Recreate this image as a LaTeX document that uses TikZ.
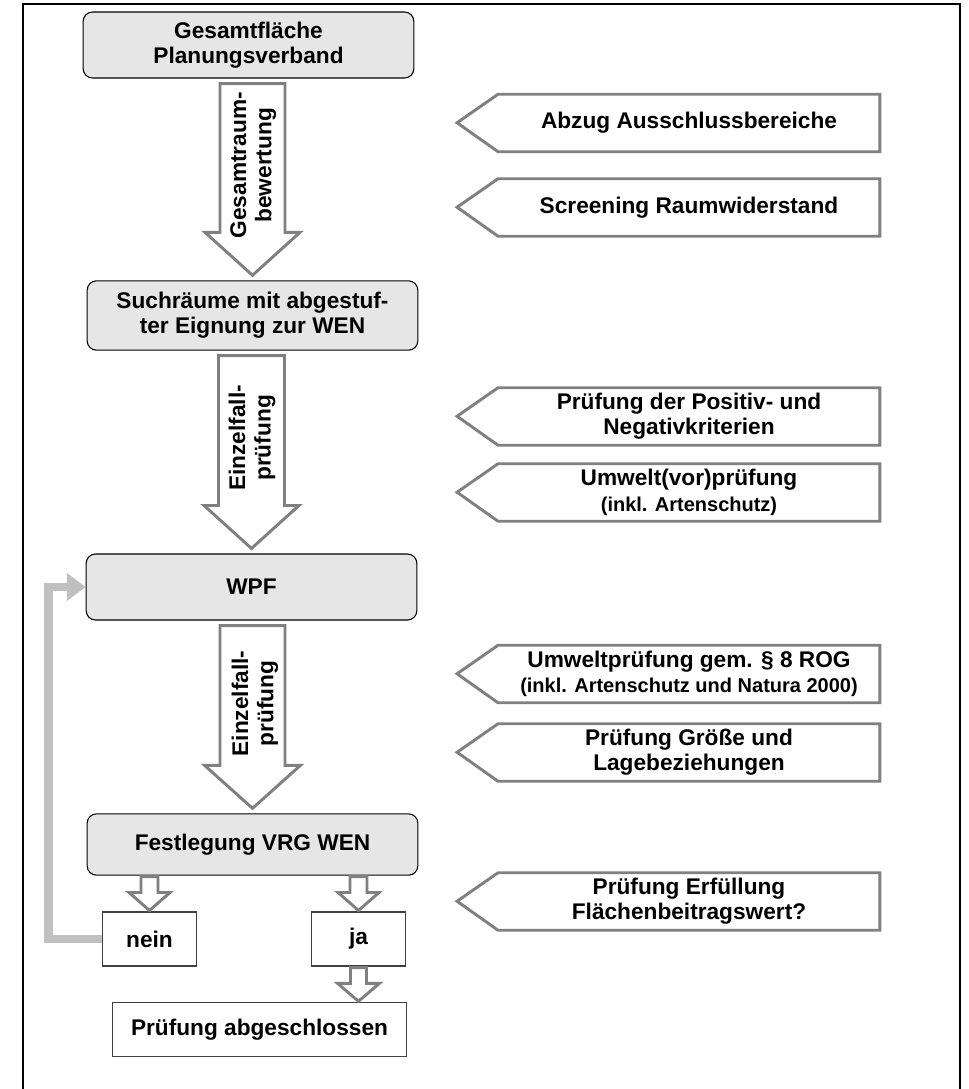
\documentclass[tikz,border=0pt]{standalone}
\usepackage{fontspec}
\setmainfont{Liberation Sans}
\usetikzlibrary{calc,arrows.meta}
\definecolor{boxgray}{HTML}{E6E6E6}
\definecolor{arrowgray}{HTML}{808080}
\definecolor{backgray}{HTML}{C0C0C0}
\newcommand{\klein}{\fontsize{15}{17}\selectfont}
\newcommand{\blockdown}[6]{%
  \draw[hollow] ($(#1 -| #2)+(-#3,#6)$) -- ($(#2)+(-#3,-#6-#5)$) -- ($(#2)+(-#4,-#6-#5)$)
    -- ($(#2)+(0,-#6)$) -- ($(#2)+(#4,-#6-#5)$) -- ($(#2)+(#3,-#6-#5)$) -- ($(#1 -| #2)+(#3,#6)$) -- cycle;}
\begin{document}
\begin{tikzpicture}[x=0.75pt,y=-0.75pt,
            txt/.style={font=\bfseries\fontsize{17}{19}\selectfont,align=center},
            box/.style={txt,draw=black,line width=0.8pt,fill=boxgray,rounded corners=7pt,minimum width=248pt},
            small/.style={txt,draw=black!75,line width=0.8pt,fill=white},
            hollow/.style={draw=arrowgray,line width=2.2pt,fill=white},
            side/.style={txt,minimum width=286pt,minimum height=42.75pt,inner sep=0pt},
            sidearrow/.style={draw=arrowgray,line width=2.2pt},
            back/.style={draw=backgray,line width=6.5pt,-{Triangle[length=14pt,width=20pt]}}]
            \useasboundingbox (0,0) rectangle (968,1089);
            \draw[line width=1.6pt] (23,1089) -- (23,4) -- (960,4) -- (960,1089);
            \node[box,minimum height=49.5pt] (gesamt) at (248.5,45) {Gesamtfläche\\Planungsverband};
            \node[box,minimum height=52pt] (such) at (252.5,315.5) {Suchräume mit abgestuf-\\ter Eignung zur WEN};
            \node[box,minimum height=49.5pt] (wpf) at (251.5,587) {WPF};
            \node[box,minimum height=46pt] (vrg) at (252.5,844.5) {Festlegung VRG WEN};
            \node[small,minimum width=71pt,minimum height=40.5pt] (nein) at (149.5,939) {nein};
            \node[small,minimum width=71pt,minimum height=40.5pt] (ja) at (358.5,939) {ja};
            \node[small,minimum width=221pt,minimum height=40pt] (ende) at (259.5,1029.5) {Prüfung abgeschlossen};
            \blockdown{gesamt.south}{such.north}{32.5}{47.5}{43}{5}
            \blockdown{such.south}{wpf.north}{33}{47.5}{43}{5}
            \blockdown{wpf.south}{vrg.north}{32.5}{48}{43}{5}
            \node[txt,rotate=90] (bewertung) at ($(gesamt.south)!0.43!(such.north)+(3,0)$) {Gesamtraum-\\bewertung};
            \node[txt,rotate=90] (einzel1) at ($(such.south)!0.43!(wpf.north)+(0,0)$) {Einzelfall-\\prüfung};
            \node[txt,rotate=90] (einzel2) at ($(wpf.south)!0.43!(vrg.north)+(3,0)$) {Einzelfall-\\prüfung};
            \blockdown{vrg.south}{nein.north}{8.5}{20.5}{18}{1}
            \blockdown{vrg.south}{ja.north}{8.5}{20.5}{18}{1}
            \coordinate (jaend) at (ende.north -| ja.south);
            \blockdown{ja.south}{jaend}{8}{21}{18}{1}
            \draw[back] (nein.west) -- ++(-53,0) |- (wpf.west);
            \foreach \y/\txt [count=\i] in {123/{Abzug Ausschlussbereiche},
                207.5/{Screening Raumwiderstand},
                416.5/{Prüfung der Positiv- und\\Negativkriterien},
                492.5/{Umwelt(vor)prüfung\\{\klein(inkl. Artenschutz)}},
                674/{Umweltprüfung gem. § 8 ROG\\{\klein(inkl. Artenschutz und Natura 2000)}},
                752.5/{Prüfung Größe und\\Lagebeziehungen},
                901.5/{Prüfung Erfüllung\\Flächenbeitragswert?}}
            {
              \node[side] (side\i) at (689,\y) {\txt};
              \draw[sidearrow] (side\i.north east) -- (side\i.north west) -- ++(-41,28.5)
                -- (side\i.south west) -- (side\i.south east) -- cycle;
            }
        \end{tikzpicture}
\end{document}
